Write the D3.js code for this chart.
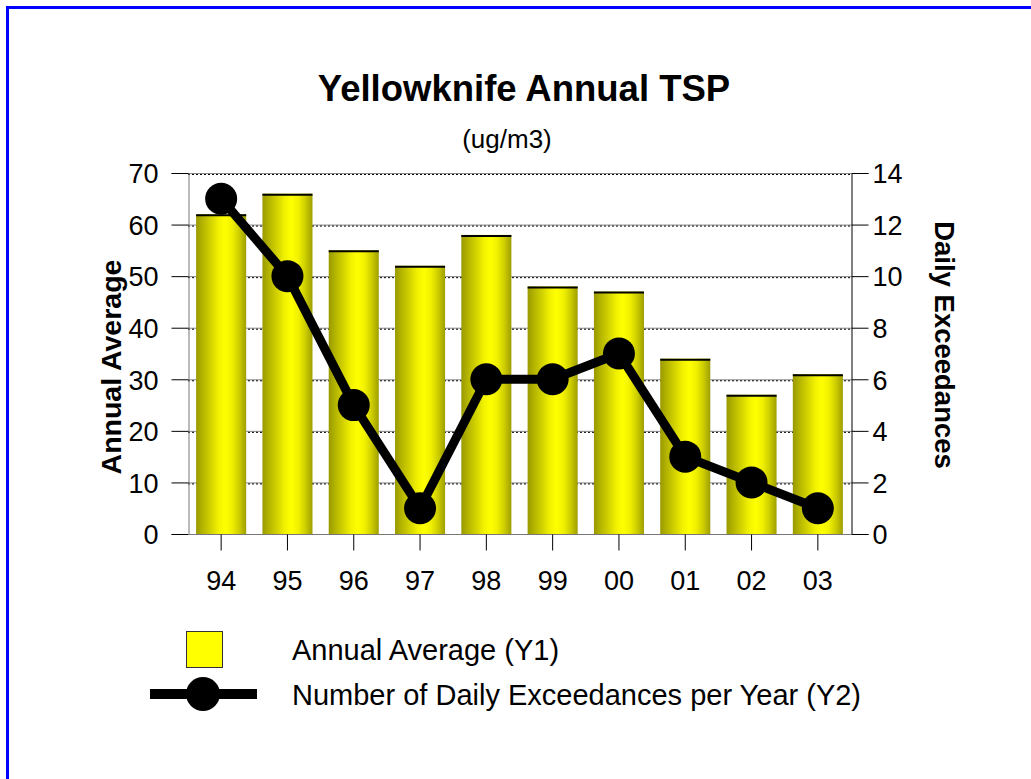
<!DOCTYPE html>
<html><head><meta charset="utf-8">
<script src="https://cdn.jsdelivr.net/npm/d3@7"></script>
<style>body{margin:0;background:#fff}svg{display:block;font-family:"Liberation Sans",Arial,sans-serif}</style>
</head><body>
<svg id="c" width="1031" height="779"></svg>
<script>
const categories = ["94","95","96","97","98","99","00","01","02","03"];
const annualAverage = [62,66,55,52,58,48,47,34,27,31];
const dailyExceedances = [13,10,5,1,6,6,7,3,2,1];
const y1Ticks = [0,10,20,30,40,50,60,70];
const y2Ticks = [0,2,4,6,8,10,12,14];

const svg = d3.select("#c");
const L=188,R=851,T=173,B=534;

// border
svg.append("path").attr("d","M7.5,779 L7.5,7.5 L1031,7.5").attr("fill","none").attr("stroke","#0000ff").attr("stroke-width",3);

const defs = svg.append("defs");
const g = defs.append("linearGradient").attr("id","bar").attr("x1","0").attr("x2","1").attr("y1","0").attr("y2","0");
[[0,"#999900"],[0.12,"#b2b200"],[0.28,"#d0d000"],[0.45,"#f2f200"],[0.58,"#ffff00"],[0.72,"#f0f000"],[0.86,"#cdcd00"],[1,"#9e9e00"]]
 .forEach(([o,c])=>g.append("stop").attr("offset",o).attr("stop-color",c));

const x = d3.scaleBand().domain(categories).range([L,R]).paddingInner(0.245).paddingOuter(0.1225);
const y1 = d3.scaleLinear().domain([0,70]).range([B,T]);
const y2 = d3.scaleLinear().domain([0,14]).range([B,T]);

// gridlines
const grid = svg.append("g");
y1Ticks.filter(d=>d>0).forEach(d=>{
  grid.append("line").attr("x1",L).attr("x2",R).attr("y1",y1(d)+0.5).attr("y2",y1(d)+0.5).attr("stroke","#888").attr("stroke-width",1);
  grid.append("line").attr("x1",L).attr("x2",R).attr("y1",y1(d)+1.5).attr("y2",y1(d)+1.5).attr("stroke","#000").attr("stroke-width",1).attr("stroke-dasharray","2,2");
});

// left axis
const ax1 = svg.append("g").attr("transform",`translate(${L+0.5},0)`)
  .call(d3.axisLeft(y1).tickValues(y1Ticks).tickSize(17).tickPadding(13));
ax1.select(".domain").attr("stroke","#777");
ax1.selectAll(".tick line").attr("stroke","#000");
ax1.selectAll("text").attr("font-size",27).attr("font-family","Liberation Sans, Arial").attr("fill","#000").attr("dy","0.36em");

// right axis
const ax2 = svg.append("g").attr("transform",`translate(${R+0.5},0)`)
  .call(d3.axisRight(y2).tickValues(y2Ticks).tickSize(17).tickPadding(4));
ax2.select(".domain").attr("stroke","#000");
ax2.selectAll(".tick line").attr("stroke","#000");
ax2.selectAll("text").attr("font-size",27).attr("font-family","Liberation Sans, Arial").attr("fill","#000").attr("dy","0.36em");

// bars
const bars = svg.append("g");
bars.selectAll("rect").data(annualAverage).join("rect")
  .attr("x",(d,i)=>x(categories[i])).attr("width",x.bandwidth())
  .attr("y",d=>y1(d)).attr("height",d=>B-y1(d)).attr("fill","url(#bar)");
bars.selectAll("line.top").data(annualAverage).join("line").attr("class","top")
  .attr("x1",(d,i)=>x(categories[i])).attr("x2",(d,i)=>x(categories[i])+x.bandwidth())
  .attr("y1",d=>y1(d)+1).attr("y2",d=>y1(d)+1).attr("stroke","#000").attr("stroke-width",2);

// bottom axis
const ax3 = svg.append("g").attr("transform",`translate(0,${B+0.5})`)
  .call(d3.axisBottom(x).tickSize(16).tickPadding(20));
ax3.select(".domain").attr("stroke","#777").attr("d",`M${L},0H${R}`);
ax3.selectAll(".tick line").attr("stroke","#000");
ax3.selectAll("text").attr("font-size",27).attr("font-family","Liberation Sans, Arial").attr("fill","#000");

// line
const cx = c=>x(c)+x.bandwidth()/2;
svg.append("path").datum(dailyExceedances)
  .attr("d",d3.line().x((d,i)=>cx(categories[i])).y(d=>y2(d)))
  .attr("fill","none").attr("stroke","#000").attr("stroke-width",9).attr("stroke-linejoin","round");
svg.append("g").selectAll("circle").data(dailyExceedances).join("circle")
  .attr("cx",(d,i)=>cx(categories[i])).attr("cy",d=>y2(d)).attr("r",16).attr("fill","#000");

// titles
svg.append("text").attr("x",524).attr("y",101).attr("text-anchor","middle").attr("font-size",36.5).attr("font-weight","bold").text("Yellowknife Annual TSP");
svg.append("text").attr("x",507).attr("y",148).attr("text-anchor","middle").attr("font-size",26).text("(ug/m3)");
svg.append("text").attr("transform","translate(121,367) rotate(-90)").attr("text-anchor","middle").attr("font-size",28.5).attr("font-weight","bold").text("Annual Average");
svg.append("text").attr("transform","translate(935,345) rotate(90)").attr("text-anchor","middle").attr("font-size",27.5).attr("font-weight","bold").text("Daily Exceedances");

// legend
svg.append("rect").attr("x",186.5).attr("y",631.5).attr("width",36).attr("height",36).attr("fill","#ffff00").attr("stroke","#333").attr("stroke-width",1);
svg.append("text").attr("x",292).attr("y",660).attr("font-size",29).text("Annual Average (Y1)");
svg.append("line").attr("x1",150).attr("x2",257).attr("y1",694).attr("y2",694).attr("stroke","#000").attr("stroke-width",10);
svg.append("circle").attr("cx",203).attr("cy",694).attr("r",17).attr("fill","#000");
svg.append("text").attr("x",292).attr("y",705).attr("font-size",29).text("Number of Daily Exceedances per Year (Y2)");
</script>
</body></html>
